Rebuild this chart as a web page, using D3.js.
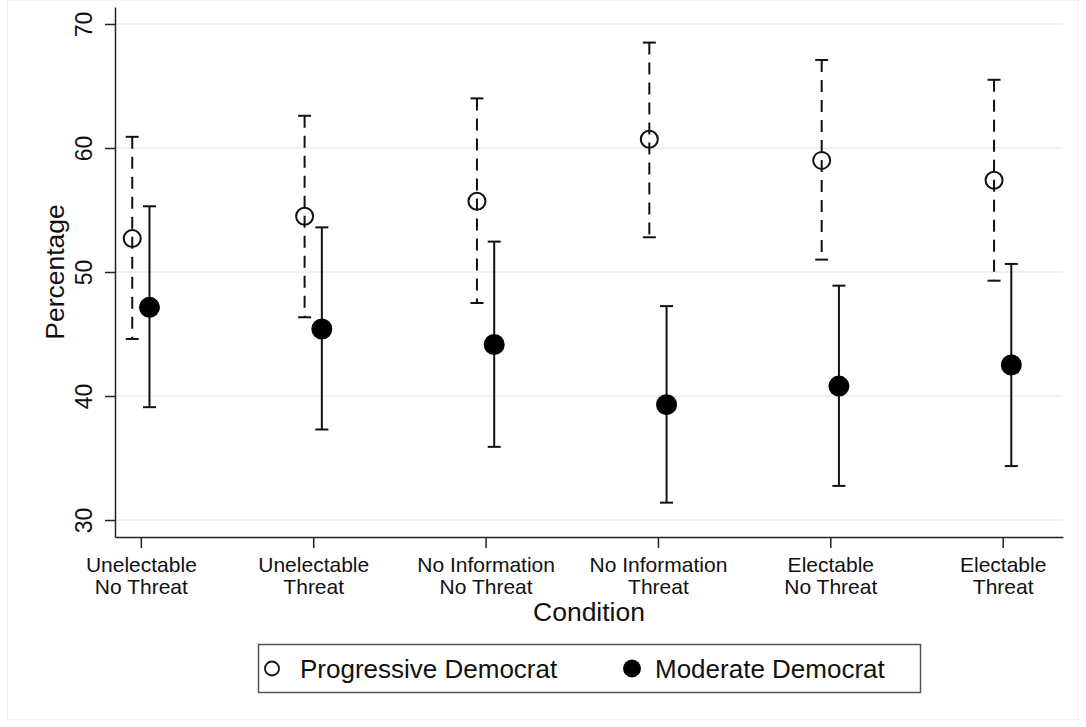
<!DOCTYPE html>
<html>
<head>
<meta charset="utf-8">
<script src="https://cdn.jsdelivr.net/npm/d3@7"></script>
<style>
  html, body { margin: 0; padding: 0; background: #fff; }
  svg { display: block; font-family: "Liberation Sans", Arial, Helvetica, sans-serif; }
</style>
</head>
<body>
<svg id="chart" width="1086" height="727"></svg>
<script>
// Conditions on the x axis (two-line labels)
const categoryLines = [
  ["Unelectable", "No Threat"],
  ["Unelectable", "Threat"],
  ["No Information", "No Threat"],
  ["No Information", "Threat"],
  ["Electable", "No Threat"],
  ["Electable", "Threat"]
];

// Progressive Democrat: point estimate and 95% interval
const progMean = [52.7, 54.5, 55.7, 60.7, 59.0, 57.4];
const progLo   = [44.6, 46.35, 47.5, 52.8, 51.0, 49.3];
const progHi   = [60.9, 62.6, 64.0, 68.5, 67.1, 65.5];

// Moderate Democrat: point estimate and 95% interval
const modMean = [47.15, 45.4, 44.15, 39.3, 40.8, 42.5];
const modLo   = [39.1, 37.3, 35.9, 31.4, 32.75, 34.35];
const modHi   = [55.3, 53.6, 52.45, 47.25, 48.9, 50.65];

const yTicks = [30, 40, 50, 60, 70];
const seriesNames = ["Progressive Democrat", "Moderate Democrat"];

const svg = d3.select("#chart");

// faint outer region frame
svg.append("rect")
  .attr("x", 7.5).attr("y", 0.5).attr("width", 1071).attr("height", 719)
  .attr("fill", "none").attr("stroke", "#edf4f5").attr("stroke-width", 1);

const x = d3.scaleLinear().domain([0.85, 6.35]).range([115, 1063]);
const y = d3.scaleLinear().domain([28.63, 71.37]).range([537, 7]);

// horizontal grid lines
svg.append("g").selectAll("line")
  .data(yTicks).join("line")
  .attr("x1", x(0.85)).attr("x2", x(6.35))
  .attr("y1", d => y(d)).attr("y2", d => y(d))
  .attr("stroke", "#e0ecf0").attr("stroke-width", 1.6);

// y axis
const yAxis = svg.append("g")
  .attr("transform", `translate(${x(0.85)},0)`)
  .call(d3.axisLeft(y).tickValues(yTicks).tickSize(10).tickSizeOuter(0).tickFormat(d3.format("d")));
yAxis.select(".domain").attr("stroke", "#222").attr("stroke-width", 1.5);
yAxis.selectAll(".tick line").attr("stroke", "#222").attr("stroke-width", 1.5);
yAxis.selectAll(".tick text")
  .attr("transform", "rotate(-90)")
  .attr("x", 0).attr("y", -23).attr("dy", 0)
  .attr("text-anchor", "middle")
  .attr("font-size", 23).attr("fill", "#111")
  .attr("font-family", "Liberation Sans, Arial, sans-serif");

// x axis
const xAxis = svg.append("g")
  .attr("transform", `translate(0,${y(28.63)})`)
  .call(d3.axisBottom(x).tickValues([1, 2, 3, 4, 5, 6]).tickSize(11).tickSizeOuter(0).tickFormat(""));
xAxis.select(".domain").attr("stroke", "#222").attr("stroke-width", 1.5);
xAxis.selectAll(".tick line").attr("stroke", "#222").attr("stroke-width", 1.5);
xAxis.selectAll(".tick").each(function(d, i) {
  const t = d3.select(this).append("text")
    .attr("text-anchor", "middle")
    .attr("font-size", 21).attr("fill", "#111")
    .attr("font-family", "Liberation Sans, Arial, sans-serif");
  t.append("tspan").attr("x", 0).attr("y", 35).text(categoryLines[i][0]);
  t.append("tspan").attr("x", 0).attr("y", 57).text(categoryLines[i][1]);
});

// axis titles
svg.append("text")
  .attr("x", (x(0.85) + x(6.35)) / 2).attr("y", 621)
  .attr("text-anchor", "middle").attr("font-size", 26.5).attr("fill", "#111")
  .text("Condition");
svg.append("text")
  .attr("transform", `translate(64,${y(50)}) rotate(-90)`)
  .attr("text-anchor", "middle").attr("font-size", 26.5).attr("fill", "#111")
  .text("Percentage");

// error bars and markers
const offset = 0.05;
const capHalf = 6.5;

function drawSeries(mean, lo, hi, dx, dashed, filled) {
  const g = svg.append("g");
  const xs = i => x(i + 1 + dx);
  g.selectAll("line.bar").data(mean).join("line")
    .attr("class", "bar")
    .attr("x1", (d, i) => xs(i)).attr("x2", (d, i) => xs(i))
    .attr("y1", (d, i) => y(hi[i])).attr("y2", (d, i) => y(lo[i]))
    .attr("stroke", "#111").attr("stroke-width", 2)
    .attr("stroke-dasharray", dashed ? "12,8" : null);
  [hi, lo].forEach(arr => {
    g.selectAll(null).data(arr).join("line")
      .attr("x1", (d, i) => xs(i) - capHalf).attr("x2", (d, i) => xs(i) + capHalf)
      .attr("y1", d => y(d)).attr("y2", d => y(d))
      .attr("stroke", "#111").attr("stroke-width", 2);
  });
  g.selectAll("circle").data(mean).join("circle")
    .attr("cx", (d, i) => xs(i)).attr("cy", d => y(d))
    .attr("r", filled ? 10.5 : 8.5)
    .attr("fill", filled ? "#000" : "none")
    .attr("stroke", filled ? "none" : "#111").attr("stroke-width", 2);
}

drawSeries(progMean, progLo, progHi, -offset, true, false);
drawSeries(modMean, modLo, modHi, offset, false, true);

// legend
const legend = svg.append("g");
legend.append("rect")
  .attr("x", 258.5).attr("y", 644.5).attr("width", 662).attr("height", 48)
  .attr("fill", "#fff").attr("stroke", "#555").attr("stroke-width", 1.5);
legend.append("circle")
  .attr("cx", 272).attr("cy", 668.5).attr("r", 7)
  .attr("fill", "none").attr("stroke", "#111").attr("stroke-width", 1.8);
legend.append("text")
  .attr("x", 300).attr("y", 678).attr("font-size", 26).attr("fill", "#111")
  .text(seriesNames[0]);
legend.append("circle")
  .attr("cx", 632).attr("cy", 668.5).attr("r", 9)
  .attr("fill", "#000");
legend.append("text")
  .attr("x", 655).attr("y", 678).attr("font-size", 26).attr("fill", "#111")
  .text(seriesNames[1]);
</script>
</body>
</html>
